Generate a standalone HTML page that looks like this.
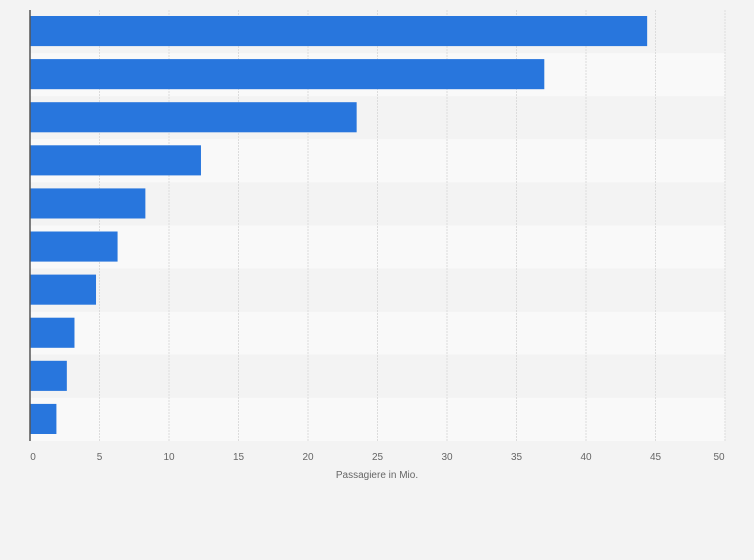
<!DOCTYPE html>
<html><head><meta charset="utf-8"><style>
body{margin:0;background:#f3f3f3;font-family:"Liberation Sans",sans-serif;}
svg{display:block}
</style></head><body>
<svg id="c" width="754" height="560"></svg>
<script>
const categories=["1","2","3","4","5","6","7","8","9","10"];
const values=[44.4,37.0,23.5,12.3,8.3,6.3,4.75,3.2,2.65,1.9];
const ticks=[0,5,10,15,20,25,30,35,40,45,50];
const NS="http://www.w3.org/2000/svg";
const svg=document.getElementById('c');
const x0=30,x1=725,y0=10,y1=441,maxV=50;
const xs=v=>x0+(v/maxV)*(x1-x0);
const rowH=(y1-y0)/categories.length;
function mk(t,a,p){const e=document.createElementNS(NS,t);for(const k in a)e.setAttribute(k,a[k]);(p||svg).appendChild(e);return e;}
categories.forEach((c,i)=>{
  const r=mk('rect',{x:x0,y:y0+i*rowH,width:x1-x0,height:rowH,fill:i%2?'#f9f9f9':'#f3f3f3'});
  
  
});
ticks.forEach((t,j)=>{
  if(t>0){const g=mk('line',{x1:xs(t),x2:xs(t),y1:y0,y2:y1,stroke:'#dcdcdc','stroke-dasharray':'2,1'});
  
  }
  const off=t===0?3:(j===ticks.length-1?-6:0);
  const l=mk('text',{x:xs(t)+off,y:460,'font-size':10,fill:'#666','text-anchor':'middle'});
  l.textContent=t;
  
  
});
values.forEach((v,i)=>{
  const b=mk('rect',{x:x0,y:y0+i*rowH+6,width:xs(v)-x0,height:rowH-13,fill:'#2876dd'});
  
  
});
const ax=mk('line',{x1:x0,x2:x0,y1:y0,y2:y1,stroke:'#555','stroke-width':1.5});


const tt=mk('text',{x:377,y:478,'font-size':10,fill:'#666','text-anchor':'middle'});
tt.textContent='Passagiere in Mio.';


</script>
</body></html>
